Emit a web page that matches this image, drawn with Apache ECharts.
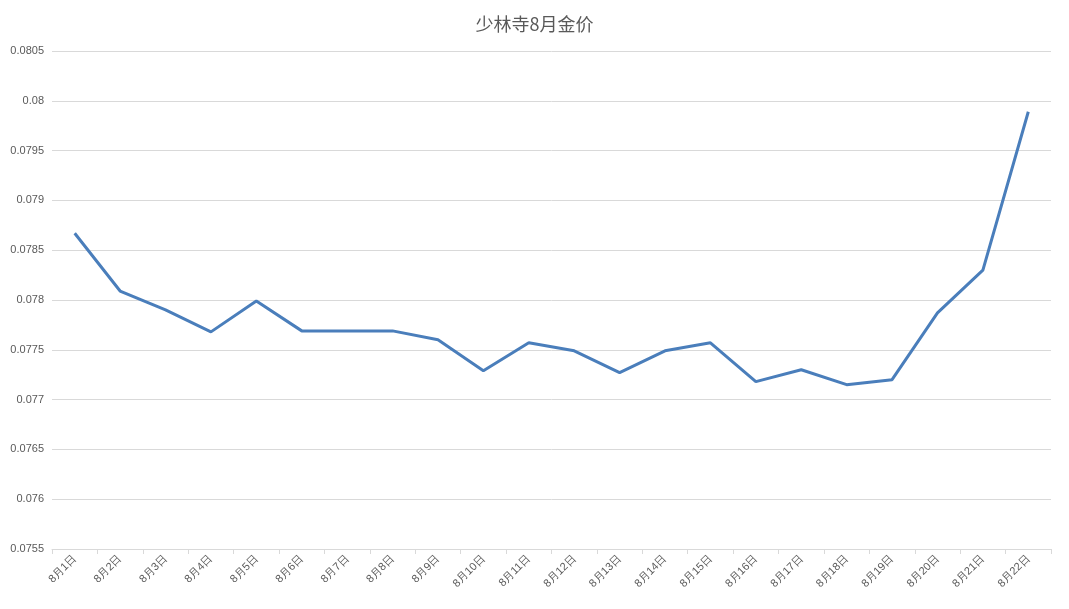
<!DOCTYPE html>
<html>
<head>
<meta charset="utf-8">
<script src="https://cdn.jsdelivr.net/npm/echarts@6/dist/echarts.min.js"></script>
<style>html,body{margin:0;padding:0;background:#fff;}#main{width:1069px;height:609px;}</style>
</head>
<body>
<div id="main"></div>
<script>
const days = ["8月1日","8月2日","8月3日","8月4日","8月5日","8月6日","8月7日","8月8日","8月9日","8月10日","8月11日",
  "8月12日","8月13日","8月14日","8月15日","8月16日","8月17日","8月18日","8月19日","8月20日","8月21日","8月22日"];
const prices = [0.07867,0.07809,0.0779,0.07768,0.07799,0.07769,0.07769,0.07769,0.0776,0.07729,0.07757,
  0.07749,0.07727,0.07749,0.07757,0.07718,0.0773,0.07715,0.0772,0.07787,0.0783,0.07989];

let myChart = echarts.init(document.querySelector("#main"));
let option = {
  animation: false,
  title: {
    text: "少林寺8月金价",
    left: "center",
    top: 10,
    textStyle: { color: "#595959", fontSize: 18, fontWeight: "normal", fontFamily: "Noto Sans CJK SC" },
  },
  grid: { left: 52, right: 18, top: 51, bottom: 60 },
  xAxis: {
    type: "category",
    data: days,
    axisLine: { lineStyle: { color: "#d9d9d9" } },
    axisTick: { show: true, lineStyle: { color: "#d9d9d9" } },
    axisLabel: { rotate: 45, color: "#595959", fontSize: 11, interval: 0 },
  },
  yAxis: {
    type: "value",
    min: 0.0755,
    max: 0.0805,
    interval: 0.0005,
    axisLine: { show: false },
    axisTick: { show: false },
    axisLabel: { color: "#595959", fontSize: 11 },
    splitLine: { lineStyle: { color: "#d9d9d9" } },
  },
  series: [
    {
      type: "line",
      data: prices,
      symbol: "none",
      lineStyle: { color: "#4a7ebb", width: 3 },
    },
  ],
};
myChart.setOption(option);
</script>
</body>
</html>
